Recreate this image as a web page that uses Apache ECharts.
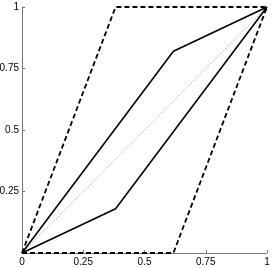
<!DOCTYPE html>
<html><head><meta charset="utf-8">
<script src="https://cdn.jsdelivr.net/npm/echarts@6/dist/echarts.min.js"></script>
<style>html,body{margin:0;padding:0;background:#fff}#c{width:273px;height:268px}</style>
</head><body><div id="c"></div>
<script>
const xTicks = [0, 0.25, 0.5, 0.75, 1];
const yTicks = [0.25, 0.5, 0.75, 1];
const upperDashed = [[0,0],[0.382,1],[1,1]];
const lowerDashed = [[0,0],[0.618,0],[1,1]];
const upperSolid = [[0,0],[0.618,0.82],[1,1]];
const lowerSolid = [[0,0],[0.382,0.18],[1,1]];
const diagonal = [[0,0],[1,1]];

const chart = echarts.init(document.getElementById('c'));
const mk = (data, type, width, color) => ({
  type: 'line', data, symbol: 'none', animation: false, silent: true,
  lineStyle: {color, width, type}
});
chart.setOption({
  animation: false,
  grid: {left: 22, right: 6, top: 7, bottom: 15, containLabel: false, outerBoundsMode: 'none'},
  xAxis: {
    type: 'value', min: 0, max: 1, interval: 0.25,
    axisLine: {lineStyle: {color: '#777', width: 1}},
    axisTick: {inside: true, length: 3, lineStyle: {color: '#777'}},
    splitLine: {show: false},
    axisLabel: {color: '#000', fontSize: 10, fontFamily: 'Liberation Sans', margin: 4,
      formatter: v => xTicks.includes(v) ? String(v) : ''}
  },
  yAxis: {
    type: 'value', min: 0, max: 1, interval: 0.25,
    axisLine: {show: true, lineStyle: {color: '#777', width: 1}},
    axisTick: {show: true, inside: true, length: 3, lineStyle: {color: '#777'}},
    splitLine: {show: false},
    axisLabel: {color: '#000', fontSize: 10, fontFamily: 'Liberation Sans', margin: 3,
      formatter: v => yTicks.includes(v) ? String(v) : ''}
  },
  series: [
    mk(diagonal, [1,2], 1, '#888'),
    mk(upperDashed, [5,3], 1.8, '#000'),
    mk(lowerDashed, [5,3], 1.8, '#000'),
    mk(upperSolid, 'solid', 1.6, '#000'),
    mk(lowerSolid, 'solid', 1.6, '#000')
  ]
});
</script></body></html>
